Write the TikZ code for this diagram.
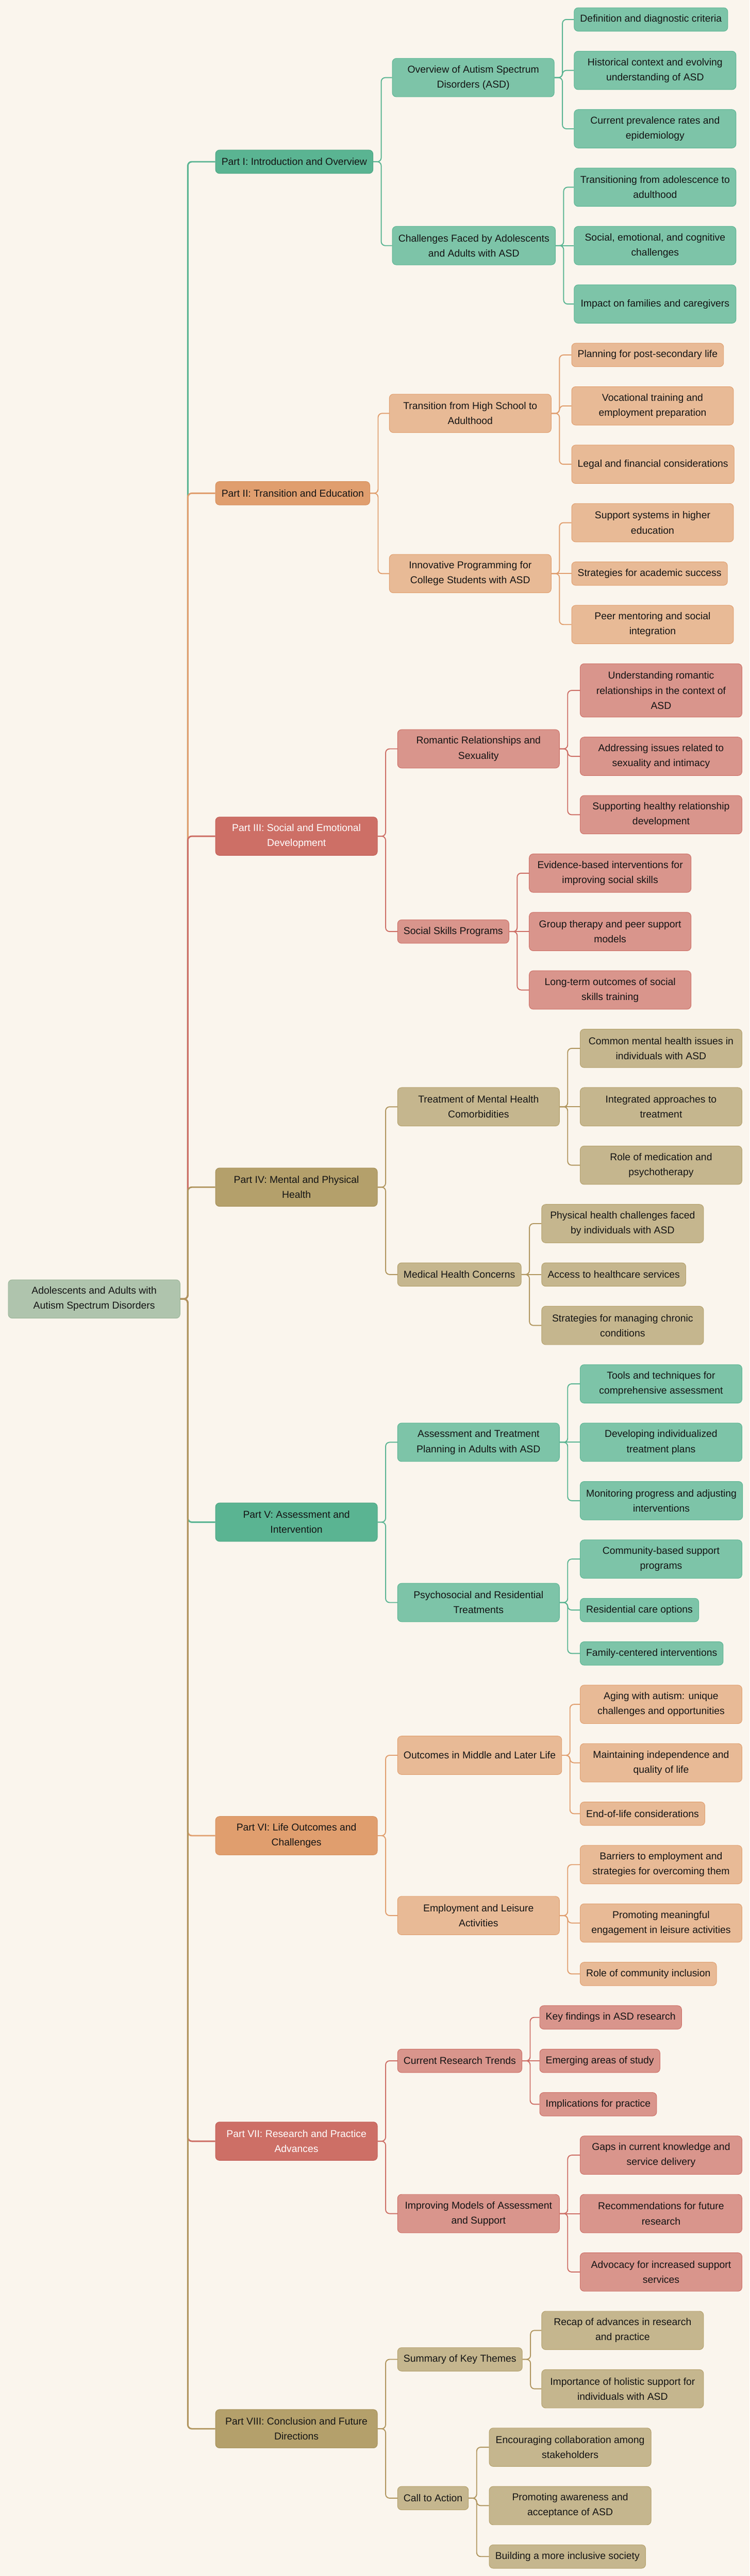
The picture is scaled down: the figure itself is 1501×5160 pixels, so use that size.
\documentclass[tikz,border=0pt]{standalone}
\usepackage{fontspec}
\setmainfont{Liberation Sans}
\usepackage{tikz}
\definecolor{cBg}{HTML}{FAF5ED}
\definecolor{cInk}{HTML}{141414}
\definecolor{cRoot}{HTML}{AFC4AD}
\definecolor{cRootD}{HTML}{9BB599}
\definecolor{cGreen}{HTML}{5AB492}
\definecolor{cGreenD}{HTML}{4DA583}
\definecolor{cGreenL}{HTML}{7DC4A8}
\definecolor{cOrange}{HTML}{E09E6E}
\definecolor{cOrangeD}{HTML}{D68F5C}
\definecolor{cOrangeL}{HTML}{E8BA96}
\definecolor{cRed}{HTML}{CD6F66}
\definecolor{cRedD}{HTML}{C25E55}
\definecolor{cRedL}{HTML}{D9958C}
\definecolor{cOlive}{HTML}{B4A06B}
\definecolor{cOliveD}{HTML}{A58F58}
\definecolor{cOliveL}{HTML}{C5B68E}
\definecolor{cOliveLn}{HTML}{B0955E}
\tikzset{
  mm/.style={rounded corners=8pt, line width=1pt, align=center, anchor=west,
    inner xsep=12pt, inner ysep=4pt, text=cInk, font=\fontsize{20}{30}\selectfont},
  one/.style={minimum height=47pt},
  two/.style={minimum height=77pt},
  three/.style={minimum height=107pt},
  wide/.style={minimum width=324pt},
  rootbox/.style={mm, two, minimum width=344pt, fill=cRoot, draw=cRootD},
  partG/.style={mm, fill=cGreen, draw=cGreenD},
  subG/.style={mm, fill=cGreenL, draw=cGreen},
  partO/.style={mm, fill=cOrange, draw=cOrangeD},
  subO/.style={mm, fill=cOrangeL, draw=cOrange},
  partR/.style={mm, fill=cRed, draw=cRedD, text=white},
  subR/.style={mm, fill=cRedL, draw=cRed},
  partY/.style={mm, fill=cOlive, draw=cOliveD},
  subY/.style={mm, fill=cOliveL, draw=cOlive},
  trunk/.style={line width=3pt, rounded corners=8pt},
  link/.style={line width=2pt, rounded corners=8pt}
}
\begin{document}
\begin{tikzpicture}[x=1pt, y=-1pt]
    \fill[cBg] (0,0) rectangle (1501,5160);
    \useasboundingbox (0,0) rectangle (1501,5160);
    \node[rootbox] (root) at (16,2602) {Adolescents and Adults with\\Autism Spectrum Disorders};
    % Part I
    \node[partG,one] (p1) at (431,324) {Part I: Introduction and Overview};
    \node[subG,two,wide] (s11) at (785,155.5) {Overview of Autism Spectrum\\Disorders (ASD)};
    \node[subG,one] (l111) at (1149,39) {Definition and diagnostic criteria};
    \node[subG,two,wide] (l112) at (1149,141) {Historical context and evolving\\understanding of ASD};
    \node[subG,two,wide] (l113) at (1149,258) {Current prevalence rates and\\epidemiology};
    \node[subG,two,wide] (s12) at (785,492) {Challenges Faced by Adolescents\\and Adults with ASD};
    \node[subG,two,wide] (l121) at (1149,375) {Transitioning from adolescence to\\adulthood};
    \node[subG,two,wide] (l122) at (1149,492) {Social, emotional, and cognitive\\challenges};
    \node[subG,two,wide] (l123) at (1149,609) {Impact on families and caregivers};
    % Part II
    \node[partO,one] (p2) at (431,988) {Part II: Transition and Education};
    \node[subO,two,wide] (s21) at (779,828) {Transition from High School to\\Adulthood};
    \node[subO,one] (l211) at (1144,711) {Planning for post-secondary life};
    \node[subO,two,wide] (l212) at (1144,813) {Vocational training and\\employment preparation};
    \node[subO,two,wide] (l213) at (1144,930) {Legal and financial considerations};
    \node[subO,two,wide] (s22) at (779,1149) {Innovative Programming for\\College Students with ASD};
    \node[subO,two,wide] (l221) at (1144,1047) {Support systems in higher\\education};
    \node[subO,one] (l222) at (1144,1149) {Strategies for academic success};
    \node[subO,two,wide] (l223) at (1144,1251) {Peer mentoring and social\\integration};
    % Part III
    \node[partR,two,wide] (p3) at (431,1675) {Part III: Social and Emotional\\Development};
    \node[subR,two,wide] (s31) at (795.5,1500) {Romantic Relationships and\\Sexuality};
    \node[subR,three,wide] (l311) at (1161,1383) {Understanding romantic\\relationships in the context of\\ASD};
    \node[subR,two,wide] (l312) at (1161,1515) {Addressing issues related to\\sexuality and intimacy};
    \node[subR,two,wide] (l313) at (1161,1632) {Supporting healthy relationship\\development};
    \node[subR,one] (s32) at (795.5,1866) {Social Skills Programs};
    \node[subR,two,wide] (l321) at (1059,1749) {Evidence-based interventions for\\improving social skills};
    \node[subR,two,wide] (l322) at (1059,1866) {Group therapy and peer support\\models};
    \node[subR,two,wide] (l323) at (1059,1983) {Long-term outcomes of social\\skills training};
    % Part IV
    \node[partY,two,wide] (p4) at (431,2378) {Part IV: Mental and Physical\\Health};
    \node[subY,two,wide] (s41) at (795.5,2217) {Treatment of Mental Health\\Comorbidities};
    \node[subY,two,wide] (l411) at (1161,2100) {Common mental health issues in\\individuals with ASD};
    \node[subY,two,wide] (l412) at (1161,2217) {Integrated approaches to\\treatment};
    \node[subY,two,wide] (l413) at (1161,2334) {Role of medication and\\psychotherapy};
    \node[subY,one] (s42) at (795.5,2553) {Medical Health Concerns};
    \node[subY,two,wide] (l421) at (1084,2451) {Physical health challenges faced\\by individuals with ASD};
    \node[subY,one] (l422) at (1084,2553) {Access to healthcare services};
    \node[subY,two,wide] (l423) at (1084,2655) {Strategies for managing chronic\\conditions};
    % Part V
    \node[partG,two,wide] (p5) at (431,3049) {Part V: Assessment and\\Intervention};
    \node[subG,two,wide] (s51) at (795.5,2889) {Assessment and Treatment\\Planning in Adults with ASD};
    \node[subG,two,wide] (l511) at (1161,2772) {Tools and techniques for\\comprehensive assessment};
    \node[subG,two,wide] (l512) at (1161,2889) {Developing individualized\\treatment plans};
    \node[subG,two,wide] (l513) at (1161,3006) {Monitoring progress and adjusting\\interventions};
    \node[subG,two,wide] (s52) at (795.5,3210) {Psychosocial and Residential\\Treatments};
    \node[subG,two,wide] (l521) at (1161,3123) {Community-based support\\programs};
    \node[subG,one] (l522) at (1161,3225) {Residential care options};
    \node[subG,one] (l523) at (1161,3312) {Family-centered interventions};
    % Part VI
    \node[partO,two,wide] (p6) at (431,3677) {Part VI: Life Outcomes and\\Challenges};
    \node[subO,two,wide] (s61) at (795.5,3516) {Outcomes in Middle and Later Life};
    \node[subO,two,wide] (l611) at (1161,3414) {Aging with autism: unique\\challenges and opportunities};
    \node[subO,two,wide] (l612) at (1161,3531) {Maintaining independence and\\quality of life};
    \node[subO,one] (l613) at (1161,3633) {End-of-life considerations};
    \node[subO,two,wide] (s62) at (795.5,3837) {Employment and Leisure\\Activities};
    \node[subO,two,wide] (l621) at (1161,3735) {Barriers to employment and\\strategies for overcoming them};
    \node[subO,two,wide] (l622) at (1161,3852) {Promoting meaningful\\engagement in leisure activities};
    \node[subO,one] (l623) at (1161,3954) {Role of community inclusion};
    % Part VII
    \node[partR,two,wide] (p7) at (431,4289) {Part VII: Research and Practice\\Advances};
    \node[subR,one] (s71) at (795.5,4128) {Current Research Trends};
    \node[subR,one] (l711) at (1080,4041) {Key findings in ASD research};
    \node[subR,one] (l712) at (1080,4128) {Emerging areas of study};
    \node[subR,one] (l713) at (1080,4215) {Implications for practice};
    \node[subR,two,wide] (s72) at (795.5,4434) {Improving Models of Assessment\\and Support};
    \node[subR,two,wide] (l721) at (1161,4317) {Gaps in current knowledge and\\service delivery};
    \node[subR,two,wide] (l722) at (1161,4434) {Recommendations for future\\research};
    \node[subR,two,wide] (l723) at (1161,4551) {Advocacy for increased support\\services};
    % Part VIII
    \node[partY,two,wide] (p8) at (431,4865) {Part VIII: Conclusion and Future\\Directions};
    \node[subY,one] (s81) at (795.5,4726) {Summary of Key Themes};
    \node[subY,two,wide] (l811) at (1084,4668) {Recap of advances in research\\and practice};
    \node[subY,two,wide] (l812) at (1084,4785) {Importance of holistic support for\\individuals with ASD};
    \node[subY,one] (s82) at (795.5,5004) {Call to Action};
    \node[subY,two,wide] (l821) at (979,4902) {Encouraging collaboration among\\stakeholders};
    \node[subY,two,wide] (l822) at (979,5019) {Promoting awareness and\\acceptance of ASD};
    \node[subY,one] (l823) at (979,5121) {Building a more inclusive society};
    % trunk
    \draw[trunk,cGreen] (root.east) -- ++(15,0) |- (p1.west);
    \draw[trunk,cOrange] (root.east) -- ++(15,0) |- (p2.west);
    \draw[trunk,cRed] (root.east) -- ++(15,0) |- (p3.west);
    \draw[trunk,cOliveLn] (root.east) -- ++(15,0) |- (p4.west);
    \draw[trunk,cGreen] (root.east) -- ++(15,0) |- (p5.west);
    \draw[trunk,cOrange] (root.east) -- ++(15,0) |- (p6.west);
    \draw[trunk,cRed] (root.east) -- ++(15,0) |- (p7.west);
    \draw[trunk,cOliveLn] (root.east) -- ++(15,0) |- (p8.west);
    % branches
    \draw[link,cGreen] (p1.east) -- ++(16,0) |- (s11.west);
    \draw[link,cGreen] (p1.east) -- ++(16,0) |- (s12.west);
    \draw[link,cGreen] (s11.east) -- ++(16,0) |- (l111.west);
    \draw[link,cGreen] (s11.east) -- ++(16,0) |- (l112.west);
    \draw[link,cGreen] (s11.east) -- ++(16,0) |- (l113.west);
    \draw[link,cGreen] (s12.east) -- ++(16,0) |- (l121.west);
    \draw[link,cGreen] (s12.east) -- (l122.west);
    \draw[link,cGreen] (s12.east) -- ++(16,0) |- (l123.west);
    \draw[link,cOrange] (p2.east) -- ++(16,0) |- (s21.west);
    \draw[link,cOrange] (p2.east) -- ++(16,0) |- (s22.west);
    \draw[link,cOrange] (s21.east) -- ++(16,0) |- (l211.west);
    \draw[link,cOrange] (s21.east) -- ++(16,0) |- (l212.west);
    \draw[link,cOrange] (s21.east) -- ++(16,0) |- (l213.west);
    \draw[link,cOrange] (s22.east) -- ++(16,0) |- (l221.west);
    \draw[link,cOrange] (s22.east) -- (l222.west);
    \draw[link,cOrange] (s22.east) -- ++(16,0) |- (l223.west);
    \draw[link,cRed] (p3.east) -- ++(16,0) |- (s31.west);
    \draw[link,cRed] (p3.east) -- ++(16,0) |- (s32.west);
    \draw[link,cRed] (s31.east) -- ++(16,0) |- (l311.west);
    \draw[link,cRed] (s31.east) -- ++(16,0) |- (l312.west);
    \draw[link,cRed] (s31.east) -- ++(16,0) |- (l313.west);
    \draw[link,cRed] (s32.east) -- ++(16,0) |- (l321.west);
    \draw[link,cRed] (s32.east) -- (l322.west);
    \draw[link,cRed] (s32.east) -- ++(16,0) |- (l323.west);
    \draw[link,cOliveLn] (p4.east) -- ++(16,0) |- (s41.west);
    \draw[link,cOliveLn] (p4.east) -- ++(16,0) |- (s42.west);
    \draw[link,cOliveLn] (s41.east) -- ++(16,0) |- (l411.west);
    \draw[link,cOliveLn] (s41.east) -- (l412.west);
    \draw[link,cOliveLn] (s41.east) -- ++(16,0) |- (l413.west);
    \draw[link,cOliveLn] (s42.east) -- ++(16,0) |- (l421.west);
    \draw[link,cOliveLn] (s42.east) -- (l422.west);
    \draw[link,cOliveLn] (s42.east) -- ++(16,0) |- (l423.west);
    \draw[link,cGreen] (p5.east) -- ++(16,0) |- (s51.west);
    \draw[link,cGreen] (p5.east) -- ++(16,0) |- (s52.west);
    \draw[link,cGreen] (s51.east) -- ++(16,0) |- (l511.west);
    \draw[link,cGreen] (s51.east) -- (l512.west);
    \draw[link,cGreen] (s51.east) -- ++(16,0) |- (l513.west);
    \draw[link,cGreen] (s52.east) -- ++(16,0) |- (l521.west);
    \draw[link,cGreen] (s52.east) -- ++(16,0) |- (l522.west);
    \draw[link,cGreen] (s52.east) -- ++(16,0) |- (l523.west);
    \draw[link,cOrange] (p6.east) -- ++(16,0) |- (s61.west);
    \draw[link,cOrange] (p6.east) -- ++(16,0) |- (s62.west);
    \draw[link,cOrange] (s61.east) -- ++(16,0) |- (l611.west);
    \draw[link,cOrange] (s61.east) -- ++(16,0) |- (l612.west);
    \draw[link,cOrange] (s61.east) -- ++(16,0) |- (l613.west);
    \draw[link,cOrange] (s62.east) -- ++(16,0) |- (l621.west);
    \draw[link,cOrange] (s62.east) -- ++(16,0) |- (l622.west);
    \draw[link,cOrange] (s62.east) -- ++(16,0) |- (l623.west);
    \draw[link,cRed] (p7.east) -- ++(16,0) |- (s71.west);
    \draw[link,cRed] (p7.east) -- ++(16,0) |- (s72.west);
    \draw[link,cRed] (s71.east) -- ++(16,0) |- (l711.west);
    \draw[link,cRed] (s71.east) -- (l712.west);
    \draw[link,cRed] (s71.east) -- ++(16,0) |- (l713.west);
    \draw[link,cRed] (s72.east) -- ++(16,0) |- (l721.west);
    \draw[link,cRed] (s72.east) -- (l722.west);
    \draw[link,cRed] (s72.east) -- ++(16,0) |- (l723.west);
    \draw[link,cOliveLn] (p8.east) -- ++(16,0) |- (s81.west);
    \draw[link,cOliveLn] (p8.east) -- ++(16,0) |- (s82.west);
    \draw[link,cOliveLn] (s81.east) -- ++(16,0) |- (l811.west);
    \draw[link,cOliveLn] (s81.east) -- ++(16,0) |- (l812.west);
    \draw[link,cOliveLn] (s82.east) -- ++(16,0) |- (l821.west);
    \draw[link,cOliveLn] (s82.east) -- ++(16,0) |- (l822.west);
    \draw[link,cOliveLn] (s82.east) -- ++(16,0) |- (l823.west);
\end{tikzpicture}
\end{document}
